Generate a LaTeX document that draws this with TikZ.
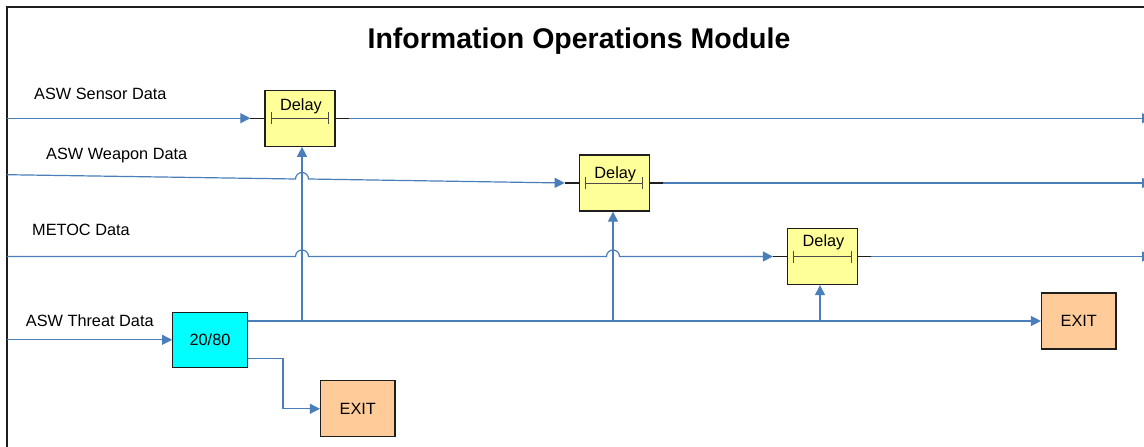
\documentclass[tikz,border=0pt]{standalone}
\usepackage{fontspec}
\setmainfont{Liberation Sans}
\usetikzlibrary{arrows.meta,calc}
\definecolor{flowblue}{RGB}{74,126,187}
\definecolor{delayfill}{RGB}{255,255,153}
\definecolor{exitfill}{RGB}{255,204,153}
\definecolor{splitfill}{RGB}{0,255,255}
\definecolor{boxline}{RGB}{30,30,30}
\begin{document}
\begin{tikzpicture}[x=1pt,y=-1pt,
  flow/.style={draw=flowblue, line width=1.2pt},
  flowarr/.style={flow, -{Triangle[length=10pt,width=10pt]}},
  stub/.style={draw=boxline, line width=1.3pt},
  bar/.style={draw=boxline!80, line width=1pt},
  txt/.style={inner sep=0pt, text=black, font=\fontsize{16.3}{19}\selectfont},
  box/.style={draw=boxline, line width=1.3pt, inner sep=0pt, font=\fontsize{16.3}{19}\selectfont},
  delaybox/.style={box, fill=delayfill, minimum width=70pt, minimum height=56pt},
  splitbox/.style={box, fill=splitfill, minimum width=74.5pt, minimum height=55pt},
  exitbox/.style={box, fill=exitfill, minimum width=74.5pt, minimum height=56pt},
]
\useasboundingbox (0,0) rectangle (1144,447);
\clip (0,0) rectangle (1144,447);
\fill[white] (0,0) rectangle (1144,447);
% frame
\draw[line width=1.3pt, draw=boxline] (7,450) -- (7,7) -- (1150,7);

% title
\node[inner sep=0pt, anchor=base, font=\bfseries\fontsize{28.5}{34}\selectfont] (title) at (579,48.3) {Information Operations Module};

% labels
\node[txt, anchor=base west] (lsensor) at (34,99) {ASW Sensor Data};
\node[txt, anchor=base west] (lweapon) at (46,159.3) {ASW Weapon Data};
\node[txt, anchor=base west] (lmetoc) at (32,235) {METOC Data};
\node[txt, anchor=base west] (lthreat) at (25.7,326) {ASW Threat Data};

% boxes
\node[delaybox] (d1) at (300,118.2) {};
\node[delaybox] (d2) at (614.3,183) {};
\node[delaybox] (d3) at (822.5,256.5) {};
\node[splitbox] (split) at (210,339.8) {20/80};
\node[exitbox] (exit1) at (1078.8,321) {EXIT};
\node[exitbox] (exit2) at (357.8,408.8) {EXIT};

% delay internals and stubs
\foreach \n/\ty in {d1/21, d2/24, d3/18.4} {
  \node[txt, anchor=base] (\n-t) at ($(\n.north)+(1,\ty)$) {Delay};
  \draw[bar] ($(\n.west)+(7,0)$) -- ($(\n.east)+(-7,0)$);
  \draw[bar] ($(\n.west)+(7,-6)$) -- ($(\n.west)+(7,6)$);
  \draw[bar] ($(\n.east)+(-7,-6)$) -- ($(\n.east)+(-7,6)$);
  \coordinate (\n-in) at ($(\n.west)+(-14,0)$);
  \coordinate (\n-out) at ($(\n.east)+(13,0)$);
  \draw[stub] (\n-in) -- (\n.west);
  \draw[stub] (\n.east) -- (\n-out);
}

% free ends
\coordinate (s0) at (7,118.2);
\coordinate (w0) at (7,174.7);
\coordinate (m0) at (7,256.5);
\coordinate (th0) at (7,339.8);
\coordinate (s1) at (1152,118.2);
\coordinate (w1) at (1152,183);
\coordinate (m1) at (1152,256.5);
\coordinate (t1) at (302,321);
\coordinate (t2) at (613,321);
\coordinate (t3) at (820,321);
\coordinate (bend) at (283,358.3);

% input flows
\draw[flowarr] (s0) -- (d1-in);
\draw[flowarr] (w0) -- (295.5,179.0) arc[start angle=180, end angle=0, radius=6.5pt] -- (d2-in);
\draw[flowarr] (m0) -- (295.5,256.5) arc[start angle=180, end angle=0, radius=6.5pt]
  -- (606.5,256.5) arc[start angle=180, end angle=0, radius=6.5pt] -- (d3-in);
\draw[flowarr] (th0) -- (split.west);

% output flows
\draw[flowarr] (d1-out) -- (s1);
\draw[flowarr] (d2-out) -- (w1);
\draw[flowarr] (d3-out) -- (m1);

% split outputs
\draw[flowarr] (split.east |- exit1.west) -- (exit1.west);
\draw[flowarr] (split.east |- bend) -- (bend) |- (exit2.west);

% control verticals
\draw[flowarr] (t1) -- (t1 |- d1.south);
\draw[flowarr] (t2) -- (t2 |- d2.south);
\draw[flowarr] (t3) -- (t3 |- d3.south);
\end{tikzpicture}
\end{document}
